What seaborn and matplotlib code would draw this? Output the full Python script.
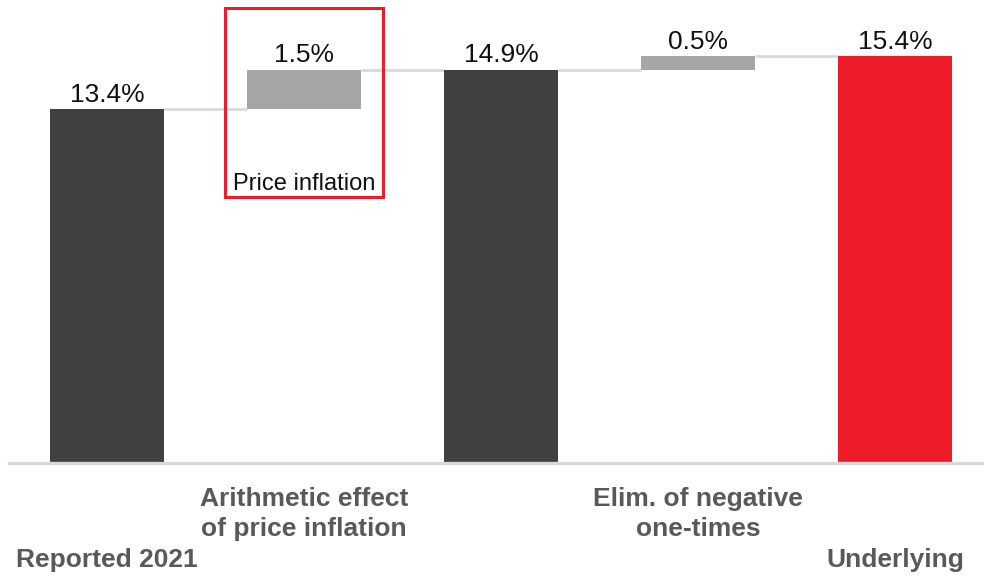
import matplotlib
matplotlib.use("Agg")
import matplotlib.pyplot as plt
from matplotlib.patches import Rectangle
import seaborn as sns
import pandas as pd

# ---- data ----
categories = ["Reported 2021", "Price inflation effect", "Subtotal", "Negative one-times", "Underlying"]
tick_labels = ["\n\nReported 2021", "Arithmetic effect\nof price inflation", "",
               "Elim. of negative\none-times", "\n\nUnderlying"]
values = [13.4, 1.5, 14.9, 0.5, 15.4]
kinds = ["total", "delta", "total", "delta", "total"]
bar_colors = ["#404040", "#a6a6a6", "#404040", "#a6a6a6", "#ee1c2b"]
highlight_label = "Price inflation"
highlight_index = 1

# derived bottoms / tops
bottoms, tops = [], []
running = 0.0
for v, k in zip(values, kinds):
    if k == "total":
        bottoms.append(0.0)
        running = v
    else:
        bottoms.append(running)
        running = running + v
    tops.append(running)

df = pd.DataFrame({"cat": categories, "val": values})

sns.set_theme(style="white")
plt.rcParams["font.family"] = ["Liberation Sans", "DejaVu Sans"]

fig = plt.figure(figsize=(9.84, 5.76), dpi=100)
ax = fig.add_axes([8.5 / 984, 113 / 576, 975 / 984, 463 / 576])

w = 0.58
sns.barplot(data=df, x="cat", y="val", order=categories, width=w, bottom=bottoms,
            linewidth=0, ax=ax, errorbar=None, color="#404040", saturation=1)
for patch, c in zip(ax.patches, bar_colors):
    patch.set_facecolor(c)
    patch.set_edgecolor("none")
    patch.set_zorder(2)

# connectors
for i in range(len(values) - 1):
    ax.plot([i + w / 2, i + 1 - w / 2], [tops[i], tops[i]], color="#d9d9d9", lw=2,
            solid_capstyle="butt", zorder=1)

# value labels
for i, (v, t) in enumerate(zip(values, tops)):
    ax.annotate(f"{v:.1f}%", xy=(i, t), xytext=(0, 2), textcoords="offset points",
                ha="center", va="bottom", fontsize=19, color="#111111", zorder=4)

# highlight box
box_top = 17.23
box_bottom = 10.08
ax.add_patch(Rectangle((highlight_index - 0.4, box_bottom), 0.8, box_top - box_bottom,
                       fill=False, edgecolor="#ee1c2b", lw=2.2, zorder=5, clip_on=False))
ax.text(highlight_index, box_bottom + 0.27, highlight_label, ha="center", va="baseline",
        fontsize=17, color="#111111")

ax.set_xlim(-0.5, 4.45)
ax.set_ylim(0, 17.54)
ax.set_xticks(range(len(categories)))
ax.set_xticklabels(tick_labels, fontsize=19, fontweight="bold", color="#595959",
                   linespacing=1.35, va="top")
ax.tick_params(axis="x", length=0, pad=17)
ax.set_yticks([])
ax.set_xlabel("")
ax.set_ylabel("")
for s in ["top", "left", "right"]:
    ax.spines[s].set_visible(False)
ax.spines["bottom"].set_color("#d9d9d9")
ax.spines["bottom"].set_linewidth(2.4)
ax.spines["bottom"].set_zorder(3)

fig.savefig("out.png", dpi=100)
